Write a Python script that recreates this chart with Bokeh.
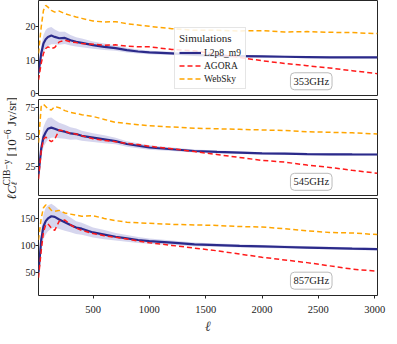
import math
from bokeh.plotting import figure
from bokeh.layouts import column, row
from bokeh.models import Range1d, Legend, LegendItem, Label, FixedTicker
from bokeh.core.properties import value
from bokeh.embed import file_html
from bokeh.resources import INLINE

# ---------------- data ----------------
ell = [16, 40, 60, 80, 100, 130, 160, 200, 250, 300, 350, 400, 500, 600, 700,
       800, 900, 1000, 1200, 1400, 1600, 1800, 2000, 2200, 2400, 2600, 2800, 3025]

# fractional 1-sigma width of the L2p8_m9 band
band_frac = [0.15, 0.18, 0.17, 0.17, 0.16, 0.15, 0.13, 0.12, 0.11, 0.10, 0.09, 0.085, 0.075, 0.07,
             0.06, 0.055, 0.05, 0.045, 0.04, 0.035, 0.032, 0.03, 0.028, 0.027, 0.026, 0.025, 0.025, 0.025]

l2p8_353 = [6, 12, 15, 16.3, 17, 17.4, 17.0, 16.6, 16.7, 16.0, 15.5, 15.2, 14.5, 14.0, 13.6,
            13.0, 12.6, 12.3, 12.0, 11.6, 11.3, 11.2, 11.1, 11.0, 10.9, 10.8, 10.8, 10.8]
agora_353 = [4, 9, 12, 13.5, 14, 13.5, 13.8, 15.5, 16, 15.5, 15.3, 15, 14.8, 14.5, 14.6,
             14.2, 14.0, 14.0, 13.2, 12.8, 11.8, 10.8, 9.8, 9.0, 8.3, 7.6, 6.8, 5.9]
websky_353 = [12, 20, 25, 26.5, 26, 25, 24.5, 24.8, 24, 23.5, 23, 22.6, 21.8, 21.5, 21.6,
              21, 20.6, 20.2, 19.5, 19.0, 19.0, 18.8, 18.9, 18.5, 18.6, 18.4, 18.3, 18.0]

l2p8_545 = [18, 40, 50, 54, 57, 58, 57, 55.5, 54.5, 53, 52.5, 51, 49.5, 48, 46.5,
            44, 42.5, 41, 39.5, 38, 37.2, 36.6, 36, 35.7, 35.4, 35.2, 35.1, 35]
agora_545 = [14, 38, 48, 50, 48, 46, 48, 56, 55, 53, 52.5, 51, 48.5, 47, 46,
             44.5, 43.5, 42, 40, 37.5, 35, 32.5, 30, 28.5, 26, 24, 21.5, 19]
websky_545 = [45, 76, 78, 76, 74, 73, 76, 75, 72.5, 71, 70, 69, 67.5, 65, 62.5,
              61.5, 60.5, 59.5, 58.5, 57.5, 57, 56.5, 56, 55.5, 54.5, 54, 53.5, 52.5]

l2p8_857 = [50, 110, 135, 145, 150, 154, 153, 148, 143, 138, 133, 131, 124, 120, 116,
            113, 110, 108, 105, 102, 100.5, 99, 98, 97, 96, 95, 94, 93]
agora_857 = [40, 90, 125, 138, 140, 132, 128, 145, 147, 138, 132, 128, 122, 118, 115,
             112, 108, 105, 100, 95, 90, 84, 78, 73, 68, 62, 56, 52]
websky_857 = [110, 150, 170, 175, 172, 165, 163, 165, 160, 158, 156, 154, 155, 150, 146,
              143, 142, 141, 139, 138, 137, 135, 134, 131, 127, 124, 123, 120]

freq_labels = ["353GHz", "545GHz", "857GHz"]
x_ticks = [500, 1000, 1500, 2000, 2500, 3000]
y_ticks = [[0, 10, 20], [25, 50, 75], [50, 100, 150]]
y_ranges = [(-0.7, 28), (0, 82), (7, 187)]
label_y = [3.6, 11.7, 34.5]
label_x = 2437
legend_title = "Simulations"
series_names = ["L2p8_m9", "AGORA", "WebSky"]

# ---------------- style ----------------
FONT = "Liberation Serif"
BLUE = "#2b2a8a"
BAND = "#b4b4e0"
RED = "#ff1a1a"
ORANGE = "#ffa500"
SPINE = "#262626"
TXT = "#222222"

xr = Range1d(ell[0], ell[-1])

panels = [
    (l2p8_353, agora_353, websky_353),
    (l2p8_545, agora_545, websky_545),
    (l2p8_857, agora_857, websky_857),
]
frame_h = [95, 96, 97]
bottoms = [4, 3, 41]
LW, BL, FW, BR = 17, 18, 342, 11

figs = []
for i, (blue, red, orange) in enumerate(panels):
    p = figure(width=BL + FW + BR, height=frame_h[i] + bottoms[i], x_range=xr,
               y_range=Range1d(*y_ranges[i]),
               output_backend="svg", toolbar_location=None,
               min_border_left=BL, min_border_right=BR, min_border_top=0,
               min_border_bottom=bottoms[i])
    p.grid.visible = False
    p.outline_line_color = SPINE
    p.outline_line_width = 1
    p.axis.axis_line_color = None
    p.axis.minor_tick_line_color = None
    p.axis.major_tick_in = 0
    p.axis.major_tick_out = 3
    p.axis.major_tick_line_color = SPINE
    p.axis.major_label_text_font = FONT
    p.axis.major_label_text_font_size = "10px"
    p.axis.major_label_text_color = TXT
    p.xaxis.ticker = FixedTicker(ticks=x_ticks)
    p.yaxis.ticker = FixedTicker(ticks=y_ticks[i])
    p.yaxis.major_label_standoff = 0
    if i < 2:
        p.xaxis.visible = False
    else:
        p.xaxis.major_label_text_font_size = "10.5px"
        p.xaxis.major_label_standoff = 7
        p.xaxis.axis_label = "ℓ"
        p.xaxis.axis_label_text_font = FONT
        p.xaxis.axis_label_text_font_style = "italic"
        p.xaxis.axis_label_text_font_size = "14px"
        p.xaxis.axis_label_standoff = 3

    lo = [b * (1 - f) for b, f in zip(blue, band_frac)]
    hi = [b * (1 + f) for b, f in zip(blue, band_frac)]
    p.varea(x=ell, y1=lo, y2=hi, fill_color=BAND, fill_alpha=0.55)
    rb = p.line(ell, blue, line_color=BLUE, line_width=2.2)
    rr = p.line(ell, red, line_color=RED, line_width=1.5, line_dash="5 3")
    ro = p.line(ell, orange, line_color=ORANGE, line_width=1.5, line_dash="5 3")

    lab = Label(x=label_x, y=label_y[i], text=freq_labels[i], text_align="center",
                text_baseline="middle", text_font=FONT, text_font_size="10.5px",
                text_color=TXT, background_fill_color="white",
                border_line_color="#bbbbbb", border_line_width=1,
                padding=3, border_radius=4)
    p.add_layout(lab)

    if i == 0:
        legend = Legend(items=[LegendItem(label=series_names[0], renderers=[rb]),
                               LegendItem(label=series_names[1], renderers=[rr]),
                               LegendItem(label=series_names[2], renderers=[ro])],
                        location=(136, 6), title=legend_title)
        legend.title_text_font = FONT
        legend.title_text_font_size = "11px"
        legend.title_text_font_style = "normal"
        legend.title_text_color = TXT
        legend.title_standoff = 3
        legend.label_text_font = FONT
        legend.label_text_font_size = "9.5px"
        legend.label_text_color = TXT
        legend.glyph_width = 22
        legend.glyph_height = 11
        legend.label_height = 11
        legend.label_standoff = 3
        legend.spacing = 2
        legend.padding = 4
        legend.margin = 0
        legend.border_line_color = "#cccccc"
        legend.background_fill_alpha = 0.85
        p.add_layout(legend)
    figs.append(p)

# ---------------- shared y-axis label (rotated, composed in its own strip) ----------------
TOTAL_H = sum(frame_h) + sum(bottoms)
yl = figure(width=LW, height=TOTAL_H, x_range=Range1d(0, LW), y_range=Range1d(0, TOTAL_H),
            output_backend="svg", toolbar_location=None, min_border=0,
            x_axis_location=None, y_axis_location=None)
yl.grid.visible = False
yl.outline_line_color = None


def py(page_y):
    return TOTAL_H + 8 - page_y


def px(page_x):
    return page_x - 8


pieces = [
    ("ℓC", 13, "italic", 207, 19),
    ("ℓ", 8.5, "italic", 193, 21.3),
    ("CIB−y", 9.5, "normal", 193, 14.5),
    ("[10", 13, "normal", 164, 19),
    ("−6", 9.5, "normal", 147, 14.5),
    ("Jy/sr]", 13, "normal", 133.5, 19),
]
for txt, size, style, ystart, xb in pieces:
    yl.text(x=[px(xb)], y=[py(ystart)], text=[txt], angle=math.pi / 2, text_align="left",
            text_baseline="alphabetic", text_font=value(FONT),
            text_font_size=f"{size}px", text_font_style=style, text_color=TXT)

layout = row(yl, column(*figs))
open("out.html", "w").write(file_html(layout, INLINE))
